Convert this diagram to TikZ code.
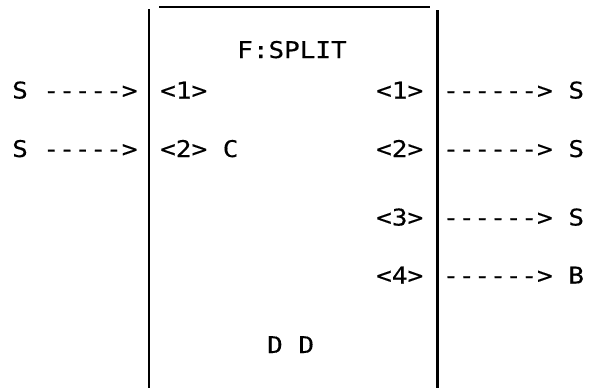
\documentclass[tikz,border=0pt]{standalone}
\usepackage{fontspec}
\newfontfamily\ocrfont[FakeStretch=1.13,FakeBold=0.35]{DejaVu Sans Mono}
\begin{document}
\begin{tikzpicture}[x=1pt,y=-1pt,
  txt/.style={anchor=base west,inner sep=0pt,font=\ocrfont\fontsize{23}{26}\selectfont},
  boxline/.style={line width=2.4pt},
  topline/.style={line width=1.5pt}]
\useasboundingbox (0,0) rectangle (593,388);
% box
\coordinate (lt) at (149,9);
\coordinate (lb) at (149,388);
\coordinate (rt) at (437.5,10);
\coordinate (rb) at (437.5,388);
\coordinate (tl) at (159,7);
\coordinate (tr) at (430,7);
\draw[boxline] (lt) -- (lb);
\draw[boxline] (rt) -- (rb);
\draw[topline] (tl) -- (tr);
% texts
\node[txt] (title) at (237,58) {F:SPLIT};
\node[txt] (in1) at (12,98.5) {S ----->};
\node[txt] (in2) at (12,157) {S ----->};
\node[txt] (p1) at (160,98.5) {<1>};
\node[txt] (p2) at (160,157) {<2> C};
\node[txt] (q1) at (376,98.5) {<1>};
\node[txt] (q2) at (376,157) {<2>};
\node[txt] (q3) at (376,225.5) {<3>};
\node[txt] (q4) at (376,283.5) {<4>};
\node[txt] (out1) at (443,98.5) {------> S};
\node[txt] (out2) at (443,157) {------> S};
\node[txt] (out3) at (443,225.5) {------> S};
\node[txt] (out4) at (443,283.5) {------> B};
\node[txt] (dd) at (267,353) {D D};
\end{tikzpicture}
\end{document}
